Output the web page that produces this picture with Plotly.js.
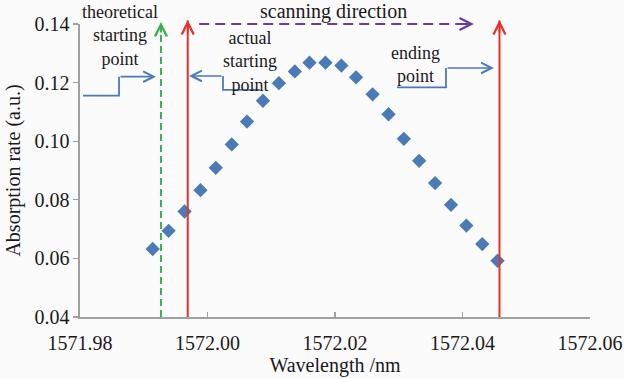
<!DOCTYPE html>
<html>
<head>
<meta charset="utf-8">
<script src="https://cdn.plot.ly/plotly-3.0.1.min.js"></script>
<style>html,body{margin:0;padding:0;background:#fbfbfb;}#chart{width:624px;height:379px;}</style>
</head>
<body>
<div id="chart"></div>
<script>
// Data
const wavelength = [1571.9914, 1571.9939, 1571.9964, 1571.9989, 1572.0013, 1572.0038, 1572.0062, 1572.0087,
  1572.0112, 1572.0137, 1572.0160, 1572.0185, 1572.0210, 1572.0233, 1572.0259, 1572.0284,
  1572.0308, 1572.0332, 1572.0357, 1572.0382, 1572.0406, 1572.0431, 1572.0455];
const absorption = [0.0632, 0.0694, 0.0760, 0.0833, 0.0909, 0.0989, 0.1067, 0.1138,
  0.1198, 0.1238, 0.1268, 0.1268, 0.1258, 0.1218, 0.1160, 0.1092,
  0.1008, 0.0933, 0.0857, 0.0783, 0.0712, 0.0649, 0.0592];
const theoreticalStart = 1571.9927;
const actualStart = 1571.9969;
const endingPoint = 1572.0458;
const scanFrom = 1571.9987, scanTo = 1572.0418;
const xTicks = [1571.98, 1572.00, 1572.02, 1572.04, 1572.06];
const yTicks = [0.04, 0.06, 0.08, 0.10, 0.12, 0.14];

const FONT = 'Liberation Serif, serif';
const BLUE = '#4a7bb7', RED = '#e8302c', GREEN = '#3bb04f', PURPLE = '#6a3da3', AXIS = '#a0a0a0';

const trace = {
  x: wavelength, y: absorption, type: 'scatter', mode: 'markers',
  marker: {symbol: 'diamond', size: 11, color: BLUE},
  hoverinfo: 'skip', showlegend: false
};

function poly(pts, color) {
  return {type: 'path', xref: 'x', yref: 'y',
    path: 'M' + pts.map(p => p[0] + ',' + p[1]).join('L'),
    line: {color: color, width: 1.8}};
}
function arrowData(tip, tail, color) {
  return {xref: 'x', yref: 'y', axref: 'x', ayref: 'y', x: tip[0], y: tip[1], ax: tail[0], ay: tail[1],
    text: '', showarrow: true, arrowhead: 5, arrowsize: 1.3, arrowwidth: 1.6, arrowcolor: color,
    standoff: 0, startstandoff: 0};
}
function arrowTop(x, yPaper, color, ax, ay) {
  return {xref: 'x', yref: 'paper', x: x, y: yPaper, ax: ax, ay: ay, text: '', showarrow: true,
    arrowhead: 5, arrowsize: 1.3, arrowwidth: 1.8, arrowcolor: color, standoff: 0, startstandoff: 0};
}
function label(text, x, yPaper, size) {
  return {xref: 'x', yref: 'paper', x: x, y: yPaper, text: text, showarrow: false,
    xanchor: 'center', yanchor: 'middle', align: 'center', borderpad: 0,
    font: {family: FONT, size: size || 18, color: '#1a1a1a'}};
}

// callout geometry
const thA = [1571.98047, 0.11555], thB = [1571.98612, 0.11555], thC = [1571.98612, 0.12203], thTip = [1571.99192, 0.12203];
const acA = [1572.00824, 0.11750], acB = [1572.00243, 0.11750], acC = [1572.00243, 0.12227], acTip = [1571.99710, 0.12227];
const enA = [1572.02973, 0.11835], enB = [1572.03741, 0.11835], enC = [1572.03741, 0.12500], enTip = [1572.04494, 0.12500];

const layout = {
  width: 624, height: 379,
  margin: {l: 80, r: 34, t: 24, b: 62},
  paper_bgcolor: '#fbfbfb', plot_bgcolor: '#fbfbfb',
  showlegend: false,
  xaxis: {
    range: [1571.98, 1572.06], tickvals: xTicks, ticktext: xTicks.map(v => v.toFixed(2)),
    showgrid: false, zeroline: false, showline: true, linecolor: AXIS, linewidth: 1.6,
    ticks: 'inside', ticklen: 5, tickcolor: AXIS, tickwidth: 1.3, ticklabelstandoff: 7,
    ticklabeloverflow: 'allow',
    tickfont: {family: FONT, size: 20, color: '#1a1a1a'},
    title: {text: 'Wavelength /nm', font: {family: FONT, size: 20, color: '#1a1a1a'}, standoff: 2}
  },
  yaxis: {
    range: [0.04, 0.14], tickvals: yTicks, ticktext: yTicks.map(v => v.toFixed(2)),
    showgrid: false, zeroline: false, showline: true, linecolor: AXIS, linewidth: 1.6,
    ticks: 'outside', ticklen: 5, tickcolor: AXIS, tickwidth: 1.3,
    tickfont: {family: FONT, size: 20, color: '#1a1a1a'},
    title: {text: 'Absorption rate (a.u.)', font: {family: FONT, size: 20, color: '#1a1a1a'}, standoff: 8}
  },
  shapes: [
    {type: 'line', xref: 'x', yref: 'paper', x0: theoreticalStart, x1: theoreticalStart, y0: 0, y1: 1.004,
      line: {color: GREEN, width: 2, dash: '7px,4px'}},
    {type: 'line', xref: 'x', yref: 'paper', x0: actualStart, x1: actualStart, y0: 0, y1: 1.012,
      line: {color: RED, width: 2}},
    {type: 'line', xref: 'x', yref: 'paper', x0: endingPoint, x1: endingPoint, y0: 0, y1: 1.012,
      line: {color: RED, width: 2}},
    {type: 'line', xref: 'x', yref: 'paper', x0: scanFrom, x1: scanTo - 0.0004, y0: 1.0, y1: 1.0,
      line: {color: PURPLE, width: 1.8, dash: '10px,6px'}},
    poly([thA, thB, thC], BLUE),
    poly([acA, acB, acC], BLUE),
    poly([enA, enB, enC], BLUE)
  ],
  annotations: [
    arrowTop(theoreticalStart, 1.0068, GREEN, 0, 12),
    arrowTop(actualStart, 1.0136, RED, 0, 14),
    arrowTop(endingPoint, 1.0136, RED, 0, 14),
    arrowTop(scanTo, 1.0, PURPLE, -12, 0),
    arrowData(thTip, thC, BLUE),
    arrowData(acTip, acC, BLUE),
    arrowData(enTip, enC, BLUE),
    label('theoretical<br>starting<br>point', 1571.98627, 0.962),
    label('actual<br>starting<br>point', 1572.00667, 0.872),
    label('scanning direction', 1572.01969, 1.041, 20),
    label('ending<br>point', 1572.03255, 0.863)
  ]
};

Plotly.newPlot('chart', [trace], layout, {displayModeBar: false, staticPlot: true});
</script>
</body>
</html>
